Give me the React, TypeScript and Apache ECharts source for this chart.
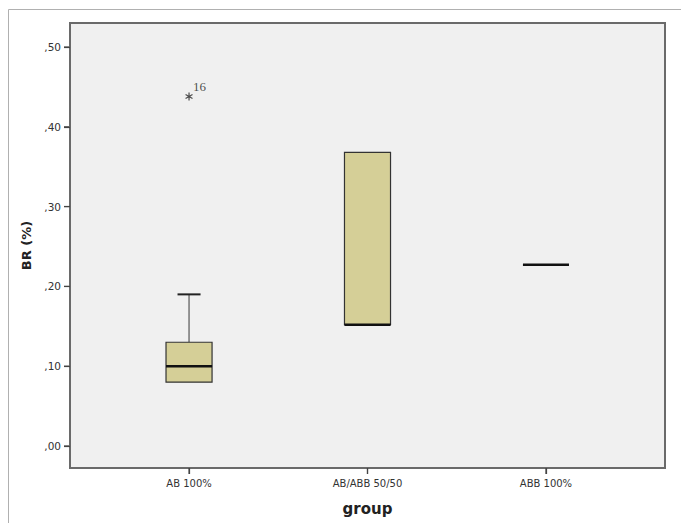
import React, { useEffect, useRef } from "react";
import * as echarts from "echarts";

const categories = ["AB 100%", "AB/ABB 50/50", "ABB 100%"];
const minValues = [0.08, 0.152, 0.227];
const q1Values = [0.08, 0.152, 0.227];
const medianValues = [0.1, 0.152, 0.227];
const q3Values = [0.13, 0.368, 0.227];
const maxValues = [0.19, 0.368, 0.227];
const outlierPoints: [number, number, string][] = [[0, 0.438, "16"]];
const yTickValues = [0, 0.1, 0.2, 0.3, 0.4, 0.5];
const yMin = -0.0276;
const yMax = 0.5301;
const xMin = -0.667;
const xMax = 2.667;

const boxFill = "#d5cf97";
const asteriskPath =
  "path://M5,0 L5,10 M0.67,2.5 L9.33,7.5 M0.67,7.5 L9.33,2.5";

function outerFrame(): any[] {
  return [
    {
      id: "outerTop",
      type: "line",
      z: -5,
      shape: { x1: 8.5, y1: 9.5, x2: 681, y2: 9.5 },
      style: { stroke: "#b0b0b0", lineWidth: 1 },
    },
    {
      id: "outerLeft",
      type: "line",
      z: -5,
      shape: { x1: 8.5, y1: 9.5, x2: 8.5, y2: 523 },
      style: { stroke: "#b0b0b0", lineWidth: 1 },
    },
  ];
}

export default function App() {
  const ref = useRef<HTMLDivElement>(null);
  useEffect(() => {
    if (!ref.current) return;
    const chart = echarts.init(ref.current, null, { renderer: "svg" });
    const boxData = categories.map((_, i) => [
      i,
      minValues[i],
      q1Values[i],
      medianValues[i],
      q3Values[i],
      maxValues[i],
    ]);
    const xTickValues = categories.map((_, i) => i);
    const tickStyle = { stroke: "#444", lineWidth: 1.2 };
    const option: any = {
      animation: false,
      backgroundColor: "#ffffff",
      grid: {
        left: 70,
        right: 16,
        top: 23,
        bottom: 55,
        show: true,
        backgroundColor: "#f0f0f0",
        borderColor: "#6a6a6a",
        borderWidth: 2,
      },
      graphic: outerFrame(),
      xAxis: {
        type: "value",
        min: xMin,
        max: xMax,
        axisLine: { show: true, onZero: false, lineStyle: { color: "#6a6a6a", width: 2 } },
        axisTick: {
          show: true,
          customValues: xTickValues,
          length: 6,
          lineStyle: { color: "#444", width: 1.2 },
        },
        axisLabel: {
          customValues: xTickValues,
          color: "#333",
          fontFamily: "DejaVu Sans",
          fontSize: 10,
          margin: 10,
          formatter: (v: number) => categories[Math.round(v)] ?? "",
        },
        name: "group",
        nameLocation: "middle",
        nameGap: 33,
        nameTextStyle: {
          color: "#222",
          fontFamily: "DejaVu Sans",
          fontWeight: "bold",
          fontSize: 15,
        },
        splitLine: { show: false },
      },
      yAxis: {
        type: "value",
        min: yMin,
        max: yMax,
        axisLine: { show: true, onZero: false, lineStyle: { color: "#6a6a6a", width: 2 } },
        axisTick: {
          show: true,
          customValues: yTickValues,
          length: 6,
          lineStyle: { color: "#444", width: 1.2 },
        },
        axisLabel: {
          customValues: yTickValues,
          color: "#333",
          fontFamily: "DejaVu Sans",
          fontSize: 10.5,
          margin: 9,
          formatter: (v: number) => "," + v.toFixed(2).split(".")[1],
        },
        splitLine: { show: false },
        name: "BR (%)",
        nameLocation: "middle",
        nameGap: 37,
        nameTextStyle: {
          color: "#222",
          fontFamily: "DejaVu Sans",
          fontWeight: "bold",
          fontSize: 13,
        },
      },
      series: [
        {
          type: "custom",
          z: 5,
          clip: false,
          silent: true,
          data: xTickValues.map((v) => [v, yMin]),
          renderItem: (params: any, api: any) => {
            const p = api.coord([api.value(0), api.value(1)]);
            return {
              type: "line",
              shape: { x1: p[0], y1: p[1], x2: p[0], y2: p[1] + 6 },
              style: tickStyle,
            };
          },
        },
        {
          type: "custom",
          z: 3,
          data: boxData,
          encode: { x: 0, y: [1, 2, 3, 4, 5] },
          renderItem: (params: any, api: any) => {
            const xi = api.value(0);
            const vMin = api.value(1);
            const vQ1 = api.value(2);
            const vMed = api.value(3);
            const vQ3 = api.value(4);
            const vMax = api.value(5);
            const pMin = api.coord([xi, vMin]);
            const pQ1 = api.coord([xi, vQ1]);
            const pMed = api.coord([xi, vMed]);
            const pQ3 = api.coord([xi, vQ3]);
            const pMax = api.coord([xi, vMax]);
            const band = api.size([1, 0])[0];
            const bw = band * 0.258;
            const cx = pMed[0];
            const children: any[] = [];
            const whiskerStyle = { stroke: "#555", lineWidth: 1.2 };
            if (vMax > vQ3) {
              children.push({
                type: "line",
                shape: { x1: cx, y1: pQ3[1], x2: cx, y2: pMax[1] },
                style: whiskerStyle,
              });
              children.push({
                type: "line",
                shape: { x1: cx - bw / 4, y1: pMax[1], x2: cx + bw / 4, y2: pMax[1] },
                style: { stroke: "#222", lineWidth: 2 },
              });
            }
            if (vMin < vQ1) {
              children.push({
                type: "line",
                shape: { x1: cx, y1: pQ1[1], x2: cx, y2: pMin[1] },
                style: whiskerStyle,
              });
              children.push({
                type: "line",
                shape: { x1: cx - bw / 4, y1: pMin[1], x2: cx + bw / 4, y2: pMin[1] },
                style: { stroke: "#222", lineWidth: 2 },
              });
            }
            if (vQ3 > vQ1) {
              children.push({
                type: "rect",
                shape: {
                  x: cx - bw / 2,
                  y: pQ3[1],
                  width: bw,
                  height: pQ1[1] - pQ3[1],
                },
                style: { fill: boxFill, stroke: "#333", lineWidth: 1.2 },
              });
            }
            children.push({
              type: "line",
              shape: { x1: cx - bw / 2, y1: pMed[1], x2: cx + bw / 2, y2: pMed[1] },
              style: { stroke: "#111", lineWidth: 2.5 },
            });
            return { type: "group", children };
          },
        },
        {
          type: "scatter",
          z: 4,
          data: outlierPoints.map((p) => ({ value: [p[0], p[1]], name: p[2] })),
          symbol: asteriskPath,
          symbolSize: 8,
          symbolKeepAspect: true,
          itemStyle: { color: "rgba(0,0,0,0)", borderColor: "#222", borderWidth: 1.2 },
          label: {
            show: true,
            position: "right",
            distance: 0,
            offset: [0, -10],
            formatter: (p: any) => p.name,
            color: "#222",
            fontFamily: "Liberation Serif",
            fontSize: 13,
          },
        },
      ],
    };
    chart.setOption(option);
    try {
      const x0 = chart.convertToPixel({ xAxisIndex: 0 }, xMin) as number;
      const yTickGraphics = yTickValues.map((v, i) => {
        const y = chart.convertToPixel({ yAxisIndex: 0 }, v) as number;
        return {
          id: "ytick" + i,
          type: "line",
          shape: { x1: x0 - 6, y1: y, x2: x0, y2: y },
          style: { stroke: "#444", lineWidth: 1.2 },
        };
      });
      chart.setOption({ graphic: [...outerFrame(), ...yTickGraphics] });
    } catch (e) {
      // keep the chart as drawn
    }
    return () => chart.dispose();
  }, []);
  return (
    <div
      ref={ref}
      style={{ position: "fixed", left: 0, top: 0, width: 681, height: 523 }}
    />
  );
}
